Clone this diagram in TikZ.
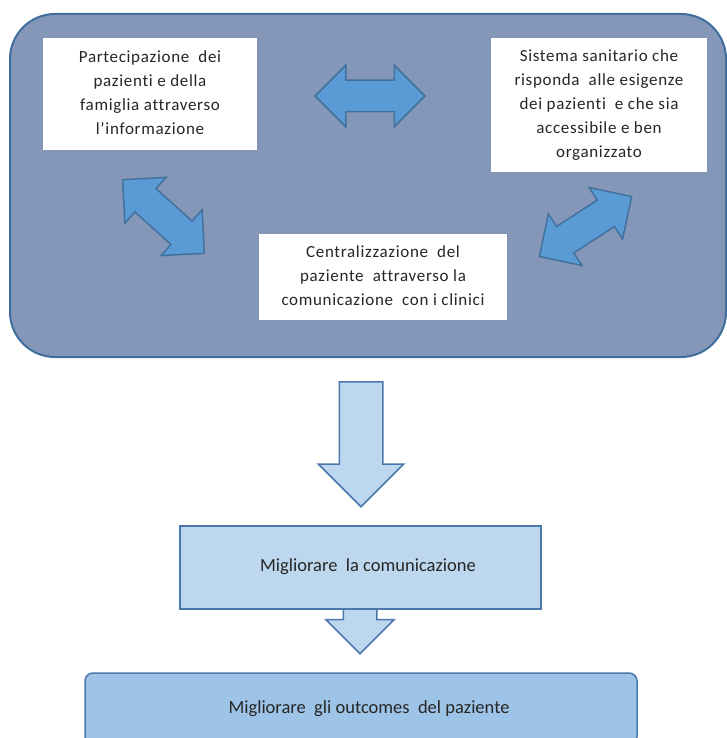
\documentclass[tikz,border=0pt]{standalone}
\usepackage{fontspec}
\setmainfont{Carlito}[Ligatures=CommonOff]
\newfontfamily\topfont{Carlito}[LetterSpace=4,Ligatures=CommonOff]
\usetikzlibrary{shapes.arrows}
\definecolor{outerfill}{HTML}{8497B8}
\definecolor{outerdraw}{HTML}{3F6E9E}
\definecolor{arrfill}{HTML}{5B9BD5}
\definecolor{arrdraw}{HTML}{41719C}
\definecolor{lightfill}{HTML}{BDD7EE}
\definecolor{lightdraw}{HTML}{4A78AC}
\definecolor{botfill}{HTML}{9DC3E6}
\definecolor{txt}{HTML}{262626}
\newcommand{\toptext}[2]{\raisebox{#1}{\topfont\fontsize{17}{24}\selectfont\begin{tabular}{@{}c@{}}#2\end{tabular}}}
\tikzset{
  txtfont/.style={font=\fontsize{18.5}{24}\selectfont, text=txt, align=center},
  whitebox/.style={text=txt, fill=white, inner sep=0pt},
  dblarrow/.style={double arrow, fill=arrfill, draw=arrdraw, line width=1.5pt,
    inner xsep=0pt, inner ysep=15pt, double arrow head extend=15pt,
    minimum height=110pt, minimum width=60pt},
  downarrow/.style={single arrow, fill=lightfill, draw=lightdraw, line width=1.5pt,
    inner xsep=0pt, rotate=-90, anchor=tail}
}
\begin{document}
\begin{tikzpicture}[x=1pt,y=-1pt]
\useasboundingbox (0,0) rectangle (727,738);
% outer panel
\node (outer) [draw=outerdraw, fill=outerfill, line width=2pt, rounded corners=45pt,
  minimum width=716pt, minimum height=343pt] at (368,185.5) {};
% white boxes
\node (tl) [whitebox, minimum width=214pt, minimum height=112pt] at (150,94)
  {\toptext{-2pt}{Partecipazione\ \ dei\\pazienti e della\\famiglia attraverso\\l’informazione}};
\node (tr) [whitebox, minimum width=216pt, minimum height=134pt] at (599,105)
  {\toptext{0pt}{Sistema sanitario che\\risponda\ \ alle esigenze\\dei pazienti\ \ e che sia\\accessibile e ben\\organizzato}};
\node (ce) [whitebox, minimum width=248pt, minimum height=86pt] at (383,277)
  {\toptext{-1pt}{Centralizzazione\ \ del\\paziente\ \ attraverso la\\comunicazione\ \ con i clinici}};
% double arrows between the boxes
\node (a1) [dblarrow] at (370,96) {};
\node (a2) [dblarrow, rotate=-42] at (163.5,216.5) {};
\node (a3) [dblarrow, rotate=33] at (585.5,226.5) {};
% big down arrow
\node (d1) [downarrow, inner ysep=21pt, single arrow head extend=21pt,
  minimum height=125pt, minimum width=84pt] at (361,381) {};
% small down arrow (behind the middle box)
\node (d2) [downarrow, inner ysep=16pt, single arrow head extend=17.5pt,
  minimum height=53pt, minimum width=67pt] at (360,600) {};
% middle box
\node (mid) [txtfont, fill=lightfill, draw=lightdraw, line width=2pt,
  minimum width=361pt, minimum height=83pt] at (360.5,567.5)
  {\hspace*{15pt}\raisebox{4pt}{Migliorare\ \ la comunicazione}};
% bottom box (cut by the page edge)
\node (bot) [txtfont, fill=botfill, draw=lightdraw, line width=1.5pt, rounded corners=8pt,
  minimum width=552pt, minimum height=72pt] at (361,709)
  {\hspace*{16pt}\raisebox{-1pt}{Migliorare\ \ gli outcomes\ \ del paziente}};
\end{tikzpicture}
\end{document}
